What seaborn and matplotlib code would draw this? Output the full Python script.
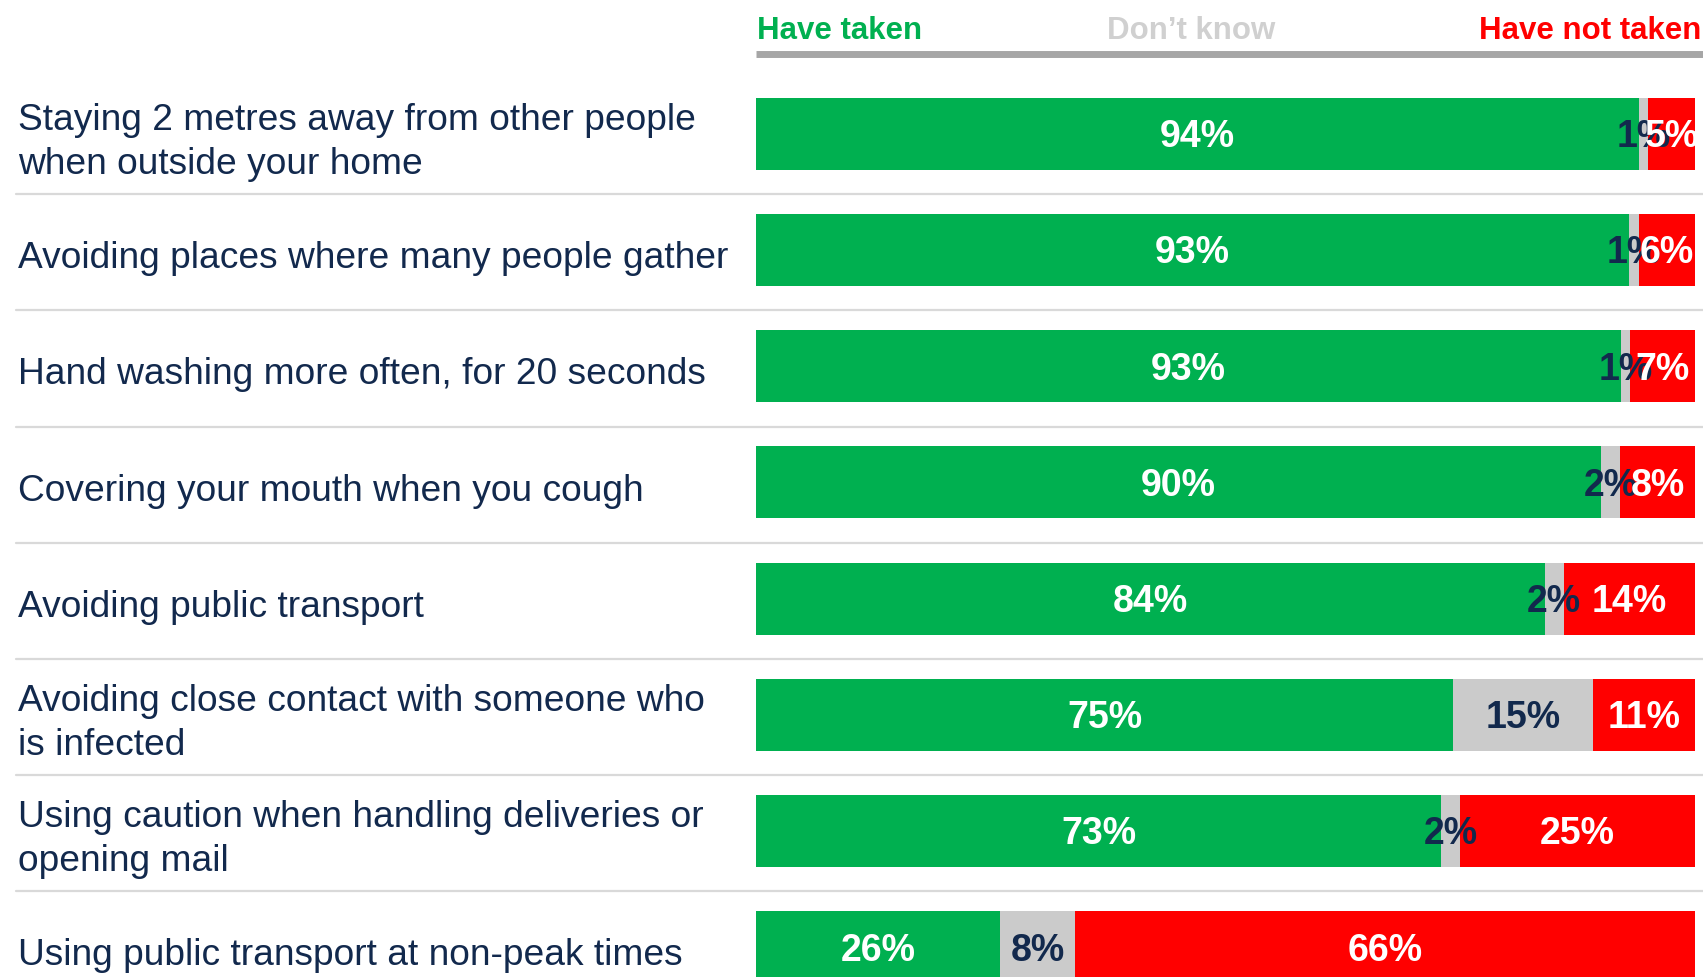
#!/usr/bin/env python3
import matplotlib
matplotlib.use('Agg')
import matplotlib.pyplot as plt
import seaborn as sns
import pandas as pd

# Data
measures = [
    "Staying 2 metres away from other people\nwhen outside your home",
    "Avoiding places where many people gather",
    "Hand washing more often, for 20 seconds",
    "Covering your mouth when you cough",
    "Avoiding public transport",
    "Avoiding close contact with someone who\nis infected",
    "Using caution when handling deliveries or\nopening mail",
    "Using public transport at non-peak times",
]
have_taken = [94, 93, 93, 90, 84, 75, 73, 26]
dont_know = [1, 1, 1, 2, 2, 15, 2, 8]
have_not_taken = [5, 6, 7, 8, 14, 11, 25, 66]

# Colours
GREEN = '#00B050'
GREY = '#CBCBCB'
RED = '#FF0000'
NAVY = '#12294D'


def build_df() -> pd.DataFrame:
    df = pd.DataFrame({
        'measure': measures,
        'taken': have_taken,
        'dk': dont_know,
        'not_taken': have_not_taken,
    })
    total = df['taken'] + df['dk'] + df['not_taken']
    # Stack as shares of each row total
    df['cum_taken'] = df['taken'] / total * 100
    df['cum_dk'] = (df['taken'] + df['dk']) / total * 100
    df['cum_all'] = 100.0
    return df


def plot_data(df: pd.DataFrame) -> None:
    sns.set_style('white')
    plt.rcParams['font.family'] = ['Liberation Sans', 'DejaVu Sans']

    fig = plt.figure(figsize=(17.03, 9.77), dpi=100)
    ax = fig.add_axes([756 / 1703, 0, 939 / 1703, 1])

    # Stacked bars drawn back to front
    for col, colour in [('cum_all', RED), ('cum_dk', GREY), ('cum_taken', GREEN)]:
        sns.barplot(data=df, x=col, y='measure', order=measures, orient='h',
                    color=colour, width=0.62, linewidth=0, saturation=1, ax=ax)

    ax.set_xlim(0, 100)
    ax.set_ylim(7.2565, -1.1515)
    ax.axis('off')

    # Value labels
    val_kw = dict(ha='center', va='center', fontsize=27, fontweight='bold')
    for i, row in df.iterrows():
        y = i + 0.03
        ax.text(row['cum_taken'] / 2, y, f"{row['taken']}%", color='white', **val_kw)
        ax.text((row['cum_taken'] + row['cum_dk']) / 2, y, f"{row['dk']}%",
                color=NAVY, **val_kw)
        ax.text((row['cum_dk'] + 100) / 2, y, f"{row['not_taken']}%",
                color='white', **val_kw)

    # Row labels on the left
    for i, name in enumerate(measures):
        ax.text(-738 / 939, i + 0.075, name, transform=ax.get_yaxis_transform(),
                ha='left', va='center', color=NAVY, fontsize=26.7,
                linespacing=1.33, clip_on=False)

    # Separator lines between rows
    for i in range(len(measures) - 1):
        ax.axhline(i + 0.52, xmin=-740 / 939, xmax=8 / 939 + 1, color='#D9D9D9',
                   linewidth=1.6, clip_on=False)

    # Header
    head_y = 1 - 31 / 977
    head_kw = dict(va='center', fontsize=22.5, fontweight='bold')
    fig.text(757 / 1703, head_y, 'Have taken', ha='left', color=GREEN, **head_kw)
    fig.text(1191 / 1703, head_y, 'Don\u2019t know', ha='center', color='#D0D0D0', **head_kw)
    fig.text(1701 / 1703, head_y, 'Have not taken', ha='right', color=RED, **head_kw)
    fig.add_artist(plt.Line2D([756 / 1703, 1], [1 - 54 / 977, 1 - 54 / 977],
                              color='#A6A6A6', linewidth=5, solid_capstyle='butt',
                              transform=fig.transFigure))

    fig.savefig('out.png', dpi=100)


def main():
    df = build_df()
    plot_data(df)


if __name__ == "__main__":
    main()
